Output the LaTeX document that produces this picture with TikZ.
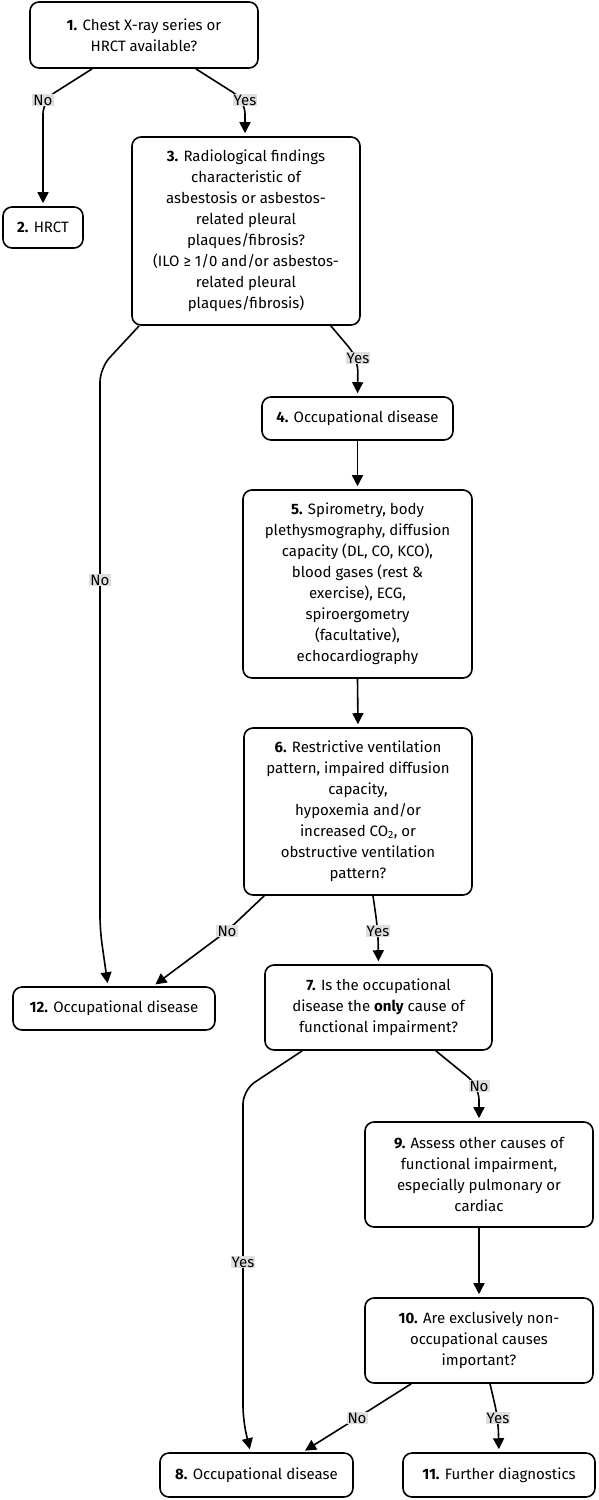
\documentclass[tikz,border=0pt]{standalone}
\usepackage{fontspec}
\setmainfont{Fira Sans}
\usetikzlibrary{arrows.meta}
\definecolor{lblbg}{RGB}{222,222,222}
\tikzset{
  box/.style={draw, rounded corners=9pt, line width=1.6pt, fill=white, align=center,
    font=\fontsize{15}{21}\selectfont, inner sep=0pt},
  arr/.style={line width=1.6pt, -{Triangle[length=11pt,width=11pt]}, rounded corners=14pt, shorten >=3pt},
  lbl/.style={fill=lblbg, inner sep=1pt, font=\fontsize{15}{17}\selectfont}
}
\begin{document}
\begin{tikzpicture}[x=1pt,y=-1pt]
\useasboundingbox (0,0) rectangle (598,1500);

\node[box, minimum width=228pt, minimum height=66pt] (n1) at (144,35) {\textbf{1.} Chest X-ray series or\\HRCT available?};
\node[box, minimum width=80pt, minimum height=41pt] (n2) at (43,227.5) {\textbf{2.} HRCT};
\node[box, minimum width=228pt, minimum height=188pt] (n3) at (246,231) {\textbf{3.} Radiological findings\\characteristic of\\asbestosis or asbestos-\\related pleural\\plaques/fibrosis?\\(ILO ≥ 1/0 and/or asbestos-\\related pleural\\plaques/fibrosis)};
\node[box, minimum width=191pt, minimum height=43pt] (n4) at (357.5,418.5) {\textbf{4.} Occupational disease};
\node[box, minimum width=229pt, minimum height=188pt] (n5) at (357.5,584) {\textbf{5.} Spirometry, body\\plethysmography, diffusion\\capacity (DL, CO, KCO),\\blood gases (rest \&\\exercise), ECG,\\spiroergometry\\(facultative),\\echocardiography};
\node[box, minimum width=228pt, minimum height=167pt] (n6) at (358,811.5) {\textbf{6.} Restrictive ventilation\\pattern, impaired diffusion\\capacity,\\hypoxemia and/or\\increased CO\textsubscript{2}, or\\obstructive ventilation\\pattern?};
\node[box, minimum width=202pt, minimum height=43pt] (n12) at (114,1008.5) {\textbf{12.} Occupational disease};
\node[box, minimum width=227pt, minimum height=85pt] (n7) at (378.5,1007.5) {\textbf{7.} Is the occupational\\disease the \textbf{only} cause of\\functional impairment?};
\node[box, minimum width=228pt, minimum height=105pt] (n9) at (479,1174.5) {\textbf{9.} Assess other causes of\\functional impairment,\\especially pulmonary or\\cardiac};
\node[box, minimum width=228pt, minimum height=85pt] (n10) at (479,1340.5) {\textbf{10.} Are exclusively non-\\occupational causes\\important?};
\node[box, minimum width=193pt, minimum height=44pt] (n8) at (256.5,1475) {\textbf{8.} Occupational disease};
\node[box, minimum width=192pt, minimum height=44pt] (n11) at (499,1475) {\textbf{11.} Further diagnostics};

% edges
\draw[arr] ([xshift=63pt]n1.south west) -- (43,100) -- (n2.north);
\node[lbl] (l1) at (43,100) {No};
\draw[arr] ([xshift=-63pt]n1.south east) -- (245,100) -- (n3.north -| 245,0);
\node[lbl] (l2) at (245,100) {Yes};

\draw[arr] ([xshift=8pt]n3.south west) -- (100,368) -- (100,930) -- ([xshift=-6pt]n12.north);
\node[lbl] (l3) at (100,580) {No};
\draw[arr] ([xshift=-30pt]n3.south east) -- (358,358) -- (n4.north);
\node[lbl] (l4) at (358,358) {Yes};

\draw[arr] (n4.south) -- (n5.north);
\draw[arr] (n5.south) -- (n6.north);

\draw[arr, rounded corners=0pt] ([xshift=21pt]n6.south west) -- (227,931) -- ([xshift=39pt]n12.north);
\node[lbl] (l5) at (227,931) {No};
\draw[arr] ([xshift=15pt]n6.south) -- (378,931) -- (n7.north);
\node[lbl] (l6) at (378,931) {Yes};

\draw[arr] ([xshift=38pt]n7.south west) -- (243,1090) -- (243,1420) -- ([xshift=-6pt]n8.north);
\node[lbl] (l7) at (243,1262) {Yes};
\draw[arr] ([xshift=-57pt]n7.south east) -- (479,1086) -- (n9.north);
\node[lbl] (l8) at (479,1086) {No};

\draw[arr] (n9.south) -- (n10.north);

\draw[arr, rounded corners=0pt] ([xshift=47pt]n10.south west) -- (357,1418) -- ([xshift=46pt]n8.north);
\node[lbl] (l9) at (357,1418) {No};
\draw[arr] ([xshift=11pt]n10.south) -- (498,1418) -- (n11.north);
\node[lbl] (l10) at (498,1418) {Yes};
\end{tikzpicture}
\end{document}
